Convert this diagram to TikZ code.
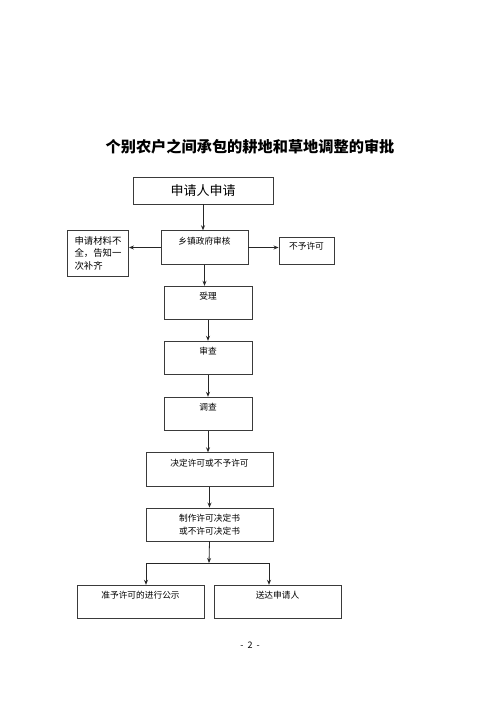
\documentclass[tikz,border=0pt]{standalone}
\usepackage{fontspec}
\setmainfont{Noto Sans CJK SC}
\usepackage{tikz}
\usetikzlibrary{positioning,arrows.meta,calc}
\definecolor{tinta}{HTML}{3A3A3A}
\tikzset{
  caja/.style={draw=tinta,line width=0.9pt,inner sep=0pt,align=center,font=\fontsize{8.7}{13}\selectfont,fill=white},
  cajatop/.style={caja,text height=13.5pt,text depth=20pt},
  flecha/.style={-{Stealth[length=5pt,width=4pt]},line width=0.8pt,color=black!85},
}

\begin{document}
\begin{tikzpicture}[x=1pt,y=-1pt]
  \useasboundingbox (0,0) rectangle (500,707);
  \node[font=\fontsize{15.2}{17}\selectfont\bfseries] (titulo) at (250,147) {个别农户之间承包的耕地和草地调整的审批};
  \node[caja,minimum width=140,minimum height=27,font=\fontsize{13}{15}\selectfont] (shenqing) at (203,190.5) {申请人申请};
  \node[cajatop,minimum width=87] (shenhe) at (204.5,247.5) {乡镇政府审核};
  \node[caja,minimum width=61,minimum height=46,align=left,font=\fontsize{9.4}{12.5}\selectfont] (buqi) at (98,253) {申请材料不\\全，告知一\\次补齐};
  \node[caja,minimum width=55,minimum height=27,text height=12pt,text depth=15pt] (buyu) at (306.5,250.5) {不予许可};
  \node[cajatop,minimum width=88] (shouli) at (208,303) {受理};
  \node[cajatop,minimum width=88] (shencha) at (208,358) {审查};
  \node[cajatop,minimum width=88] (diaocha) at (208,414) {调查};
  \node[cajatop,minimum width=127] (jueding) at (209.5,469.5) {决定许可或不予许可};
  \node[caja,minimum width=127,minimum height=33] (zhizuo) at (209.5,524.5) {制作许可决定书\\或不许可决定书};
  \node[cajatop,minimum width=127] (gongshi) at (140.5,602) {准予许可的进行公示};
  \node[cajatop,minimum width=127] (songda) at (277.5,602) {送达申请人};
  \node[font=\fontsize{9}{10}\selectfont] (pagina) at (250,645) {-\ \ 2\ \ -};
  \coordinate (fen) at (209,563);
  \draw[flecha] (shenqing.south) -- (shenqing.south |- shenhe.north);
  \draw[flecha] (shenhe.west) -- (shenhe.west -| buqi.east);
  \draw[flecha] (shenhe.east) -- (shenhe.east -| buyu.west);
  \draw[flecha] (shenhe.south) -- (shenhe.south |- shouli.north);
  \foreach \a/\b in {shouli/shencha,shencha/diaocha,diaocha/jueding,jueding/zhizuo} \draw[flecha] (\a.south) -- (\a.south |- \b.north);
  \draw[flecha] (zhizuo.south) -- (fen);
  \draw[flecha] (fen) -| ([xshift=5.5pt]gongshi.north);
  \draw[flecha] (fen) -| ([xshift=-8.5pt]songda.north);
\end{tikzpicture}
\end{document}
